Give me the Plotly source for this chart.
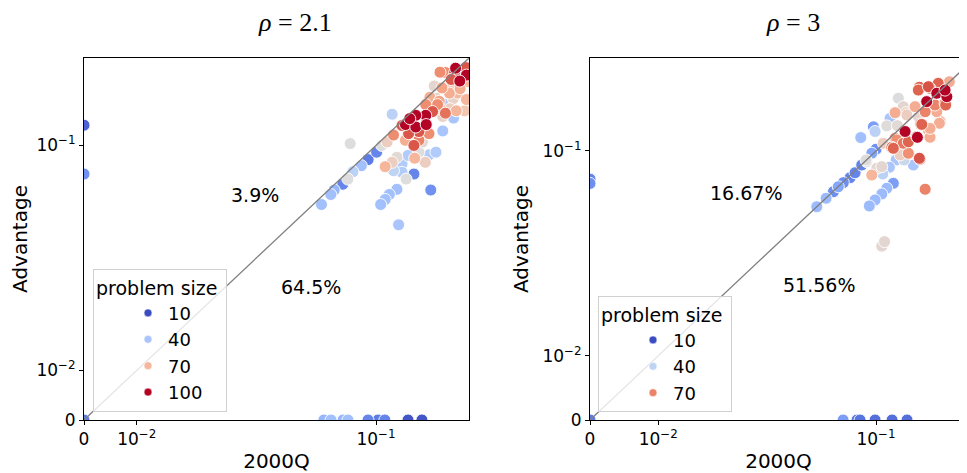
import numpy as np
import plotly.graph_objects as go
from plotly.colors import sample_colorscale

# ---------------- data ----------------
# rho = 2.1 panel
left_x = [0.256, 0.289, 0.227, 0.253, 0.291, 0.269, 0.243, 0.291, 0.199, 0.218,
          0.246, 0.238, 0.263, 0.203, 0.211, 0.291, 0.229, 0.227, 0.258, 0.285,
          0.207, 0.180, 0.195, 0.180, 0.160, 0.220, 0.250, 0.1415, 0.160, 0.181,
          0.166, 0.147, 0.187, 0.220, 0.123, 0.114, 0.1415, 0.166, 0.1565, 0.173,
          0.121, 0.107, 0.1007, 0.0911, 0.0841, 0.0761, 0.0717, 0.0675, 0.061, 0.0586,
          0.0525, 0.0737, 0.1114, 0.121, 0.128, 0.136, 0.123, 0.136, 0.1427, 0.1565,
          0.146, 0.158, 0.179, 0.1875, 0.203, 0.166, 0.191, 0.128, 0.117, 0.1114,
          0.1057, 0.1306, 0.213, 0.270, 0.249, 0.189, 0.240, 0.213, 0.193, 0.149,
          0.136,
          0.0, 0.0, 0.0,
          0.054, 0.0588, 0.0677, 0.0718, 0.091, 0.1024, 0.111, 0.146, 0.172]
left_y = [0.264, 0.266, 0.250, 0.250, 0.242, 0.2245, 0.229, 0.223, 0.211, 0.206,
          0.211, 0.193, 0.193, 0.181, 0.174, 0.178, 0.167, 0.150, 0.1545, 0.1545,
          0.167, 0.167, 0.153, 0.146, 0.146, 0.144, 0.141, 0.130, 0.126, 0.130,
          0.119, 0.116, 0.116, 0.120, 0.114, 0.1045, 0.1067, 0.1067, 0.100, 0.1045,
          0.148, 0.100, 0.0919, 0.0837, 0.0775, 0.0718, 0.0655, 0.0614, 0.0571, 0.054,
          0.0476, 0.1023, 0.0766, 0.0809, 0.0862, 0.0792, 0.0728, 0.0713, 0.0655, 0.0698,
          0.0882, 0.0852, 0.0809, 0.0889, 0.0919, 0.0919, 0.0571, 0.0576, 0.054, 0.0507,
          0.0476, 0.0393, 0.251, 0.204, 0.180, 0.183, 0.1585, 0.1585, 0.165, 0.140,
          0.1285,
          0.129, 0.0698, 0.0,
          0.0, 0.0, 0.0, 0.0, 0.0, 0.0, 0.0, 0.0, 0.0]
left_size = [100, 90, 80, 90, 100, 100, 90, 70, 58, 75,
             65, 72, 70, 60, 75, 70, 40, 85, 70, 65,
             80, 80, 90, 100, 100, 60, 40, 100, 100, 100,
             90, 90, 80, 40, 80, 62, 72, 82, 90, 58,
             45, 55, 22, 20, 38, 45, 55, 22, 35, 38,
             38, 55, 70, 62, 57, 42, 46, 42, 55, 22,
             42, 70, 62, 42, 42, 55, 25, 38, 38, 38,
             38, 40, 80, 72, 60, 72, 62, 72, 57, 100,
             90,
             15, 25, 20,
             35, 38, 35, 38, 22, 20, 22, 12, 12]

# rho = 3 panel
right_x = [0.337, 0.267, 0.230, 0.1786, 0.2015, 0.2255, 0.1348, 0.197, 0.252, 0.1686,
           0.129, 0.1495, 0.180, 0.2357, 0.182, 0.1206, 0.0965, 0.1154, 0.0987, 0.0815,
           0.1475, 0.1739, 0.2015, 0.129, 0.1541, 0.206, 0.1234, 0.1411, 0.1541, 0.1786,
           0.1307, 0.1455, 0.1648, 0.0875, 0.0944, 0.101, 0.108, 0.1195, 0.1094, 0.193,
           0.126, 0.1154, 0.108, 0.0987, 0.0914, 0.108, 0.112, 0.0452, 0.0512, 0.0565,
           0.0645, 0.0706, 0.0755, 0.0825, 0.0944, 0.100, 0.0883, 0.0603, 0.126, 0.1319,
           0.1725, 0.138, 0.180, 0.258, 0.206, 0.241, 0.2204, 0.193, 0.2255, 0.1762,
           0.1845, 0.2334, 0.133, 0.144, 0.151, 0.144, 0.1762, 0.252, 0.254, 0.206,
           0.110,
           0.0, 0.0, 0.0,
           0.0643, 0.0775, 0.0807, 0.0987, 0.1239, 0.1514]
right_y = [0.309, 0.268, 0.262, 0.248, 0.250, 0.2275, 0.212, 0.202, 0.197, 0.188,
           0.1725, 0.1725, 0.167, 0.152, 0.147, 0.159, 0.141, 0.143, 0.132, 0.121,
           0.132, 0.1215, 0.135, 0.120, 0.114, 0.1215, 0.1054, 0.099, 0.0968, 0.0901,
           0.088, 0.088, 0.0819, 0.088, 0.071, 0.0782, 0.080, 0.0793, 0.0721, 0.058,
           0.0631, 0.0588, 0.0542, 0.0498, 0.0457, 0.0271, 0.0278, 0.0452, 0.051, 0.056,
           0.0637, 0.0684, 0.0734, 0.0819, 0.0968, 0.1025, 0.0859, 0.0601, 0.1039, 0.117,
           0.1226, 0.0945, 0.0889, 0.2167, 0.244, 0.1925, 0.1925, 0.175, 0.175, 0.163,
           0.146, 0.1484, 0.1434, 0.1116, 0.167, 0.188, 0.238, 0.238, 0.1925, 0.138,
           0.1116,
           0.067, 0.063, 0.0,
           0.0, 0.0, 0.0, 0.0, 0.0, 0.0]
right_size = [75, 62, 75, 75, 77, 85, 47, 85, 75, 62,
              62, 53, 50, 62, 75, 35, 25, 48, 39, 33,
              85, 85, 62, 68, 75, 62, 72, 53, 68, 77,
              35, 43, 35, 48, 60, 50, 50, 35, 39, 70,
              25, 32, 32, 32, 32, 50, 50, 32, 32, 22,
              22, 20, 20, 20, 27, 22, 47, 27, 75, 68,
              75, 53, 75, 85, 75, 52, 70, 70, 62, 50,
              75, 62, 49, 72, 53, 50, 75, 85, 75, 62,
              53,
              20, 22, 18,
              25, 17, 17, 16, 16, 16]

legend_left = [10, 40, 70, 100]
legend_right = [10, 40, 70]
hue_left = (10, 100)
hue_right = (10, 85)

pct_left = ["3.9%", "64.5%"]
pct_right = ["16.67%", "51.56%"]
titles = ["<i>ρ</i> = 2.1", "<i>ρ</i> = 3"]
tick_vals = [0.0, 0.01, 0.1]
tick_text = ["0", "10<sup>−2</sup>", "10<sup>−1</sup>"]

L_left, L_right = 0.041, 0.028
lim_left = 0.30
lim_right_y = 0.376
lim_right_x = 0.338

COOLWARM = [[0.0, 'rgb(59,76,192)'], [0.125, 'rgb(98,130,234)'], [0.25, 'rgb(141,176,254)'],
            [0.375, 'rgb(184,208,249)'], [0.5, 'rgb(221,221,221)'], [0.625, 'rgb(245,196,173)'],
            [0.75, 'rgb(244,154,123)'], [0.875, 'rgb(222,96,77)'], [1.0, 'rgb(180,4,38)']]


def symlog(v, L):
    v = np.asarray(v, dtype=float)
    c = 1.0 / (1.0 - 1.0 / 10.0)
    a = np.abs(v)
    out = np.where(a <= L, a / L * c, c + np.log10(np.maximum(a, L) / L))
    return np.sign(v) * out


FONT = "DejaVu Sans"
fig = go.Figure()

panels = [
    dict(x=left_x, y=left_y, s=left_size, L=L_left, hue=hue_left, leg=legend_left,
         xa='x', ya='y', legend='legend', limx=lim_left, limy=lim_left, pct=pct_left),
    dict(x=right_x, y=right_y, s=right_size, L=L_right, hue=hue_right, leg=legend_right,
         xa='x2', ya='y2', legend='legend2', limx=lim_right_x, limy=lim_right_y, pct=pct_right),
]

for p in panels:
    order = np.argsort(np.asarray(p['s']), kind='stable')
    xs = symlog(np.asarray(p['x'])[order], p['L'])
    ys = symlog(np.asarray(p['y'])[order], p['L'])
    ss = np.asarray(p['s'])[order]
    fig.add_trace(go.Scatter(
        x=xs, y=ys, mode='markers', xaxis=p['xa'], yaxis=p['ya'], showlegend=False,
        marker=dict(size=12, color=ss, colorscale=COOLWARM, cmin=p['hue'][0], cmax=p['hue'][1],
                    line=dict(color='white', width=0.9)),
        hoverinfo='skip'))
    lim = max(p['limx'], p['limy'])
    fig.add_trace(go.Scatter(
        x=symlog([0, lim], p['L']), y=symlog([0, lim], p['L']), mode='lines',
        xaxis=p['xa'], yaxis=p['ya'], showlegend=False,
        line=dict(color='rgb(128,128,128)', width=1.3), hoverinfo='skip'))
    for v in p['leg']:
        t = (v - p['hue'][0]) / (p['hue'][1] - p['hue'][0])
        col = sample_colorscale(COOLWARM, [t])[0]
        fig.add_trace(go.Scatter(
            x=[None], y=[None], mode='markers', name=str(v), legend=p['legend'],
            xaxis=p['xa'], yaxis=p['ya'],
            marker=dict(size=8, color=col, line=dict(color='white', width=0.6))))

# page body has an 8px margin: the figure is drawn at (8, 8)
OFF = 8
W, H = 967 - OFF, 473 - OFF
ml, mr, mt, mb = 84 - OFF, 0, 58 - OFF, 473 - 420
pw = W - ml - mr
ph = H - mt - mb


def fx(px):  # page pixel x -> paper fraction
    return (px - OFF - ml) / pw


def fy(py):  # page pixel y -> paper fraction
    return (H - mb - (py - OFF)) / ph


left_dom = [0, 385 / pw]
right_dom = [fx(590), 1.0]

axis_common = dict(showline=True, linecolor='black', linewidth=1.1, ticks='outside', ticklen=4,
                   tickwidth=1, tickcolor='black', showgrid=False, zeroline=False,
                   automargin=False,
                   tickfont=dict(family=FONT, size=17, color='black'))

leg_common = dict(xanchor='left', yanchor='bottom', y=fy(412),
                  title=dict(text='problem size ', font=dict(size=19)), font=dict(size=18),
                  bordercolor='#d0d0d0', borderwidth=1, bgcolor='rgba(255,255,255,0.8)',
                  tracegroupgap=0, itemsizing='trace', indentation=34)

fig.update_layout(
    width=W, height=H, margin=dict(l=ml, r=mr, t=mt, b=mb, autoexpand=False),
    paper_bgcolor='white', plot_bgcolor='white',
    font=dict(family=FONT, color='black'),
    xaxis=dict(domain=left_dom, range=[0, float(symlog(lim_left, L_left))], mirror=True,
               tickvals=list(symlog(tick_vals, L_left)), ticktext=tick_text,
               title=dict(text='2000Q', font=dict(size=20), standoff=6), **axis_common),
    yaxis=dict(domain=[0, 1], range=[0, float(symlog(lim_left, L_left))], mirror=True,
               tickvals=list(symlog(tick_vals, L_left)), ticktext=tick_text,
               title=dict(text='Advantage', font=dict(size=20), standoff=8), **axis_common),
    xaxis2=dict(domain=right_dom, anchor='y2', range=[0, float(symlog(lim_right_x, L_right))],
                mirror=True, tickvals=list(symlog(tick_vals, L_right)), ticktext=tick_text,
                title=dict(text='2000Q', font=dict(size=20), standoff=6), **axis_common),
    yaxis2=dict(domain=[0, 1], anchor='x2', range=[0, float(symlog(lim_right_y, L_right))],
                mirror=False, tickvals=list(symlog(tick_vals, L_right)), ticktext=tick_text,
                title=dict(text='Advantage', font=dict(size=20), standoff=8), **axis_common),
    legend=dict(x=fx(93), **leg_common),
    legend2=dict(x=fx(598), **leg_common),
)

ann = []
pct_pos = [[(255, 195), (311, 287)], [(746, 193), (819, 285)]]
for i, p in enumerate(panels):
    for txt, (px, py) in zip(p['pct'], pct_pos[i]):
        ann.append(dict(text=txt, x=fx(px), y=fy(py), xref='paper', yref='paper',
                        xanchor='center', yanchor='middle', showarrow=False,
                        font=dict(family=FONT, size=19, color='black')))
title_pos = [(295, 22), (793, 22)]
for t, (px, py) in zip(titles, title_pos):
    ann.append(dict(text=t, x=fx(px), y=fy(py), xref='paper', yref='paper',
                    xanchor='center', yanchor='middle', showarrow=False,
                    font=dict(family='Liberation Serif', size=26, color='black')))
fig.update_layout(annotations=ann)

fig.write_html("out.html")
